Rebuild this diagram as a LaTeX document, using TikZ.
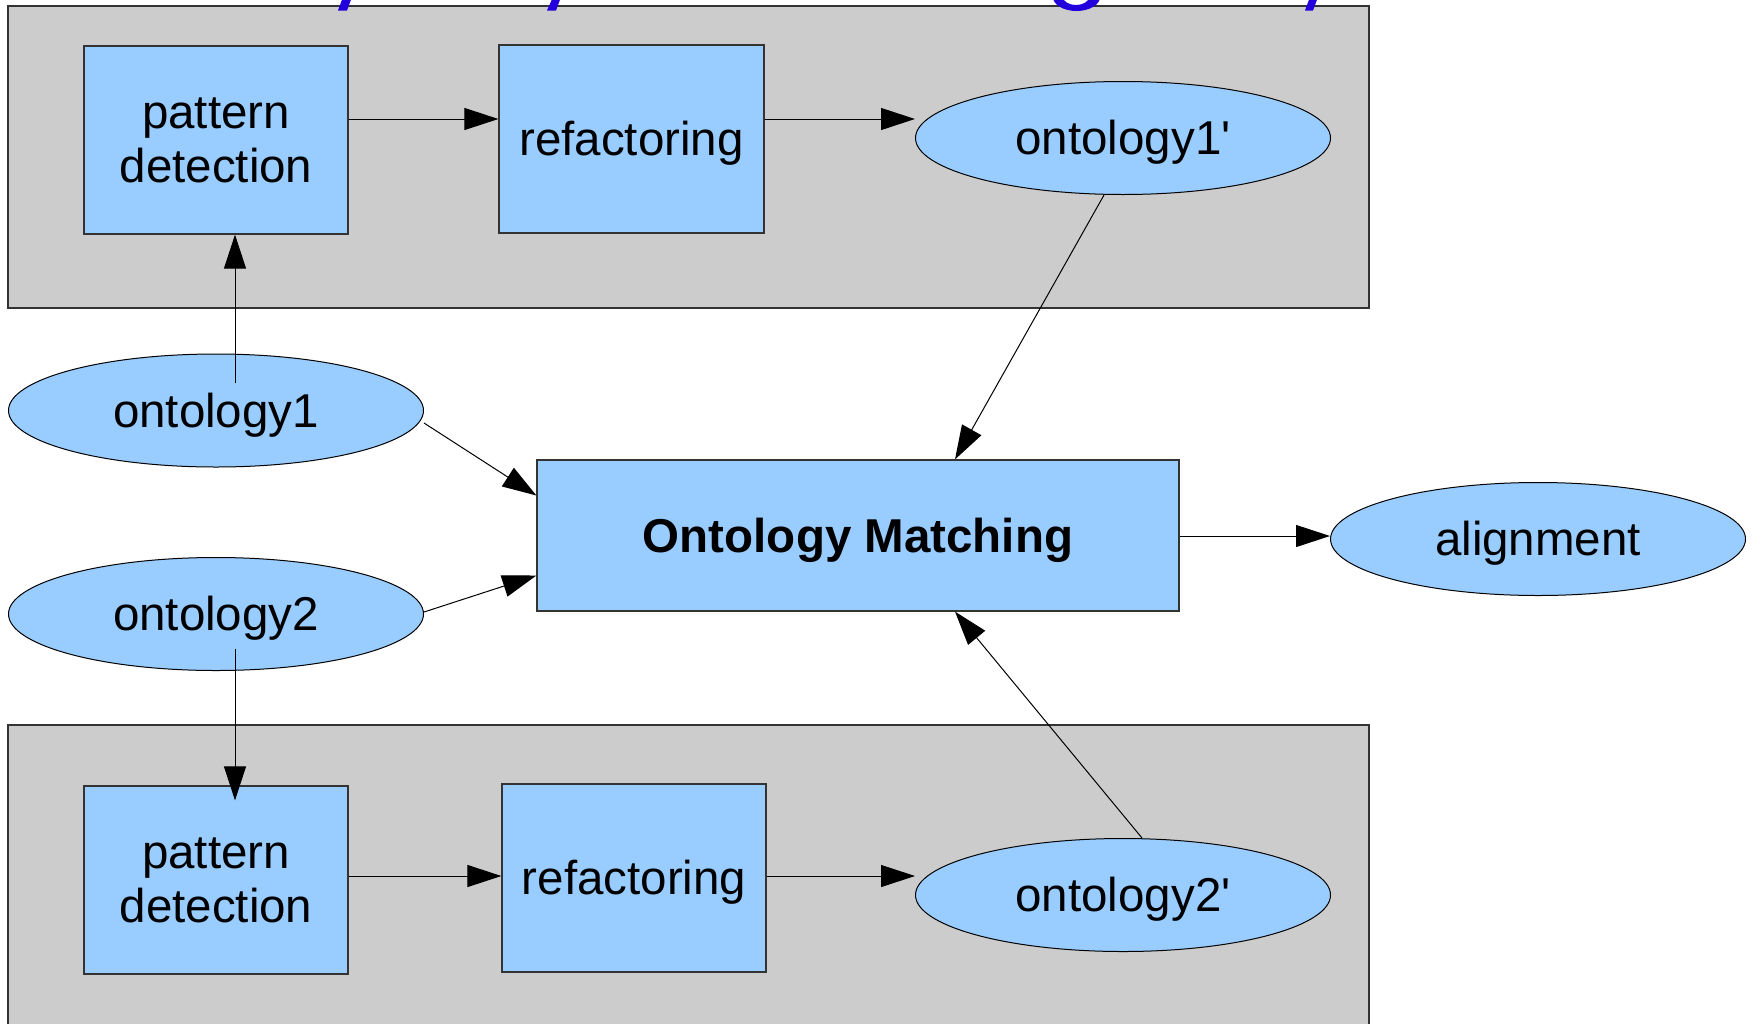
\documentclass[tikz,border=0pt]{standalone}
\usepackage{fontspec}
\setmainfont{Liberation Sans}[Ligatures=TeXOff]
\usetikzlibrary{arrows.meta,calc,shapes.geometric}
\definecolor{boxblue}{HTML}{99CCFF}
\definecolor{panelgray}{HTML}{CCCCCC}
\definecolor{edgegray}{HTML}{333333}
\definecolor{titleblue}{HTML}{2200DD}
\tikzset{
  panel/.style={fill=panelgray, draw=edgegray, line width=0.6pt},
  stepbox/.style={rectangle, fill=boxblue, draw=edgegray, line width=0.6pt,
    inner sep=0pt, minimum width=132pt, minimum height=94pt, align=center,
    font=\fontsize{23.75}{27}\selectfont},
  oneline/.style={text height=16.8pt, text depth=0pt},
  datanode/.style={ellipse, fill=boxblue, draw=black, line width=0.5pt,
    inner sep=0pt, minimum width=207.5pt, minimum height=56.5pt, oneline,
    font=\fontsize{23.75}{27}\selectfont},
  flow/.style={draw=black, line width=0.5pt, -{Triangle[length=17pt,width=11pt]}},
}
\begin{document}
\begin{tikzpicture}[x=0.5pt, y=-0.5pt]
  \useasboundingbox (0,0) rectangle (1754,1023);
  \clip (0,0) rectangle (1754,1023);

  % grey process panels
  \path[panel] (8,6) rectangle (1369,308);
  \path[panel] (8,725) rectangle (1369,1040);

  % descenders of the heading running off the top edge
  \fill[titleblue] (343,-3) -- (352,-3) -- (347,10.5) -- (338,10.5) -- cycle;
  \fill[titleblue] (553,-3) -- (561,-3) -- (556,10.5) -- (547,10.5) -- cycle;
  \fill[titleblue, even odd rule] (1076.5,-3) ellipse [x radius=23.5, y radius=14]
                                  (1076,-3) ellipse [x radius=13, y radius=8];
  \fill[titleblue] (1310,-3) -- (1318,-3) -- (1313,10.5) -- (1305,10.5) -- cycle;

  % upper preprocessing chain
  \node[stepbox] (pd1) at (216,140) {pattern\\detection};
  \node[stepbox, oneline, minimum width=132.5pt] (rf1) at (631.5,139) {refactoring};
  \node[datanode] (o1p) at (1123,138) {ontology1'};

  % inputs
  \node[datanode] (o1) at (216,410.5) {ontology1};
  \node[datanode] (o2) at (216,614) {ontology2};

  % matcher and result
  \node[stepbox, oneline, minimum width=321pt, minimum height=75.5pt,
        font=\fontsize{23.75}{27}\selectfont\bfseries] (om) at (858,535.5) {Ontology Matching};
  \node[datanode] (al) at (1538,539) {alignment};

  % lower preprocessing chain
  \node[stepbox] (pd2) at (216,880) {pattern\\detection};
  \node[stepbox, oneline] (rf2) at (634,878) {refactoring};
  \node[datanode] (o2p) at (1123,895) {ontology2'};

  % connectors of the upper chain
  \draw[flow] ([yshift=10.5pt]pd1.east) -- ([yshift=10.5pt]pd1.east -| rf1.west);
  \draw[flow] ([yshift=10pt]rf1.east) -- ([yshift=10pt]rf1.east -| o1p.west);
  \draw[flow] ([xshift=9.5pt,yshift=-14.75pt]o1.north) -- ([xshift=9.5pt]pd1.south);

  % connectors of the lower chain
  \draw[flow] ([xshift=9.5pt,yshift=-17.5pt]o2.center) -- ([xshift=9.5pt,yshift=-7.5pt]pd2.north);
  \draw[flow] ([yshift=2pt]pd2.east) -- ([yshift=2pt]pd2.east -| rf2.west);
  \draw[flow] ([yshift=1pt]rf2.east) -- ([yshift=1pt]rf2.east -| o2p.west);

  % connectors into and out of the matcher
  \draw[flow] ([yshift=-6.25pt]o1.east) -- ([yshift=20pt]om.west);
  \draw[flow] ([yshift=1pt]o2.east) -- ([yshift=-20pt]om.west);
  \draw[flow] ([xshift=-9.5pt]o1p.south) -- ([xshift=48.5pt]om.north);
  \draw[flow] ([xshift=9.5pt]o2p.north) -- ([xshift=48.5pt]om.south);
  \draw[flow] ([yshift=-0.25pt]om.east) -- ([yshift=-0.25pt]om.east -| al.west);
\end{tikzpicture}
\end{document}
